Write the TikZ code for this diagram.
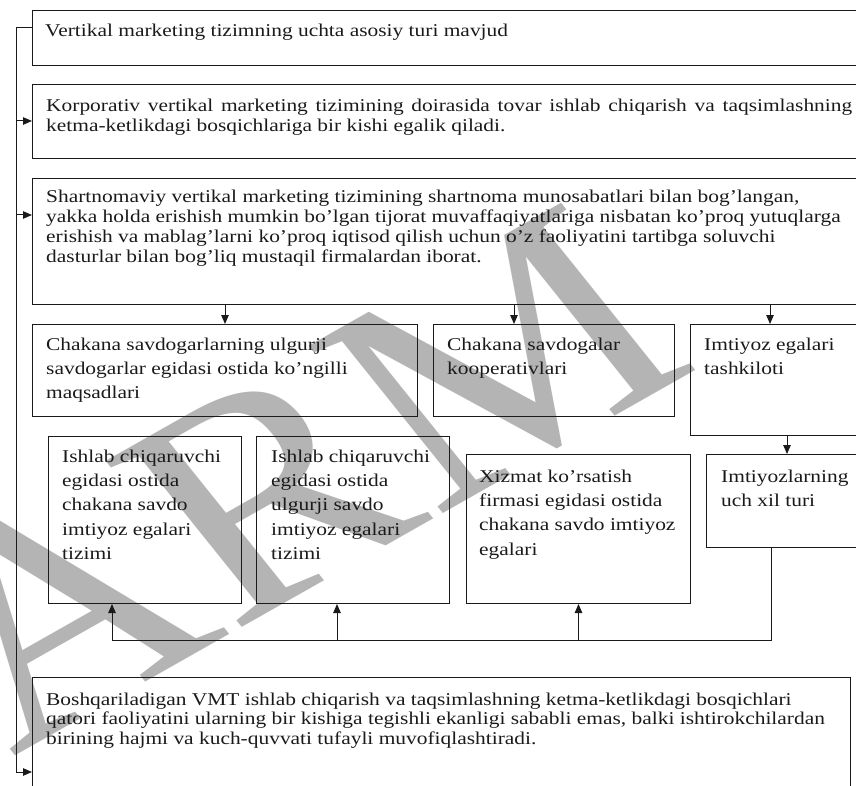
\documentclass[tikz,border=0pt]{standalone}
\usepackage{fontspec}
\setmainfont{Liberation Serif}[FakeStretch=1.19]
\newfontfamily\wmfont{Liberation Serif}
\usetikzlibrary{arrows.meta}
\definecolor{ink}{HTML}{1A1A1A}
\definecolor{wm}{HTML}{B4B4B4}
\newcommand{\tlines}[1]{\begin{tabular}[t]{@{}l@{}}#1\end{tabular}}

\tikzset{
  box/.style={draw=ink, line width=1pt, rectangle, inner sep=0pt, anchor=north west},
  txt/.style={anchor=base west, inner sep=0pt, text=ink, font={\fontsize{18}{19.8}\selectfont}},
  txtw/.style={anchor=base west, inner sep=0pt, text=ink, font={\fontsize{18}{24.4}\selectfont}},
  link/.style={draw=ink, line width=1pt},
  arr/.style={link, -{Triangle[length=9pt,width=7.5pt]}},
}

\begin{document}
\begin{tikzpicture}[x=1pt, y=-1pt]
\useasboundingbox (0,0) rectangle (856,786);
\clip (0,0) rectangle (856,786);

% watermark
\begin{scope}[xscale=1.19, transform shape]
  \node[anchor=base west, inner sep=0pt, text=wm, rotate=34,
        font={\wmfont\fontsize{308}{308}\selectfont}] (wmark) at (10,758) {ARM};
\end{scope}

% boxes
\node[box, minimum width=900pt, minimum height=55pt]  (b1) at (32,10)  {};
\node[box, minimum width=900pt, minimum height=74pt]  (b2) at (32,84)  {};
\node[box, minimum width=900pt, minimum height=126pt] (b3) at (32,178) {};
\node[box, minimum width=385pt, minimum height=92pt]  (bA) at (32,324) {};
\node[box, minimum width=241pt, minimum height=92pt]  (bB) at (433,324) {};
\node[box, minimum width=300pt, minimum height=111pt] (bC) at (690,324) {};
\node[box, minimum width=300pt, minimum height=93pt]  (bD) at (706,454) {};
\node[box, minimum width=193pt, minimum height=167pt] (bE) at (48,436) {};
\node[box, minimum width=193pt, minimum height=167pt] (bF) at (256,436) {};
\node[box, minimum width=224pt, minimum height=149pt] (bG) at (466,454) {};
\node[box, minimum width=818pt, minimum height=200pt] (bb) at (32,677) {};

% texts
\node[txt] (t1) at (45,36.7) {Vertikal marketing tizimning uchta asosiy turi mavjud};
\node[txt] (t2) at (46,111.5) {\tlines{\makebox[806pt][s]{Korporativ vertikal marketing tizimining doirasida tovar ishlab chiqarish va taqsimlashning}\\
  ketma-ketlikdagi bosqichlariga bir kishi egalik qiladi.}};
\node[txt] (t3) at (46,203) {\tlines{Shartnomaviy vertikal marketing tizimining shartnoma munosabatlari bilan bog’langan,\\
  yakka holda erishish mumkin bo’lgan tijorat muvaffaqiyatlariga nisbatan ko’proq yutuqlarga\\
  erishish va mablag’larni ko’proq iqtisod qilish uchun o’z faoliyatini tartibga soluvchi\\
  dasturlar bilan bog’liq mustaqil firmalardan iborat.}};
\node[txtw] (tA) at (46,350) {\tlines{Chakana savdogarlarning ulgurji\\ savdogarlar egidasi ostida ko’ngilli\\ maqsadlari}};
\node[txtw] (tB) at (447,350) {\tlines{Chakana savdogalar\\ kooperativlari}};
\node[txtw] (tC) at (704,350) {\tlines{Imtiyoz egalari\\ tashkiloti}};
\node[txtw] (tE) at (62,462) {\tlines{Ishlab chiqaruvchi\\ egidasi ostida\\ chakana savdo\\ imtiyoz egalari\\ tizimi}};
\node[txtw] (tF) at (271,462) {\tlines{Ishlab chiqaruvchi\\ egidasi ostida\\ ulgurji savdo\\ imtiyoz egalari\\ tizimi}};
\node[txtw] (tG) at (479,482) {\tlines{Xizmat ko’rsatish\\ firmasi egidasi ostida\\ chakana savdo imtiyoz\\ egalari}};
\node[txtw] (tD) at (721,482) {\tlines{Imtiyozlarning\\ uch xil turi}};
\node[txt] (tb) at (46,705) {\tlines{Boshqariladigan VMT ishlab chiqarish va taqsimlashning ketma-ketlikdagi bosqichlari\\
  qatori faoliyatini ularning bir kishiga tegishli ekanligi sababli emas, balki ishtirokchilardan\\
  birining hajmi va kuch-quvvati tufayli muvofiqlashtiradi.}};

% left spine
\coordinate (sTop) at (16,28);
\coordinate (sEnd) at (16,772);
\coordinate (s2) at (16,121);
\coordinate (s3) at (16,215);
\draw[arr] (sTop -| b1.west) -- (sTop) -- (sEnd) -- (sEnd -| bb.west);
\draw[arr] (s2) -- (s2 -| b2.west);
\draw[arr] (s3) -- (s3 -| b3.west);

% from the contractual box down to its three forms
\coordinate (dB) at (514,304);
\coordinate (dC) at (770,304);
\draw[arr] (b3.south -| bA.north) -- (bA.north);
\draw[arr] (dB) -- (dB |- bB.north);
\draw[arr] (dC) -- (dC |- bC.north);

% franchise organisation to its three kinds
\coordinate (cD) at (787,435);
\draw[arr] (cD) -- (cD |- bD.north);

% return loop to the three franchise systems
\coordinate (rR) at (771,640);
\coordinate (rL) at (112,640);
\coordinate (rF) at (337,640);
\draw[link] (rR |- bD.south) -- (rR) -- (rL);
\draw[arr] (rL) -- (rL |- bE.south);
\draw[arr] (rF) -- (rF |- bF.south);
\draw[arr] (rL -| bG.south) -- (bG.south);
\end{tikzpicture}
\end{document}
